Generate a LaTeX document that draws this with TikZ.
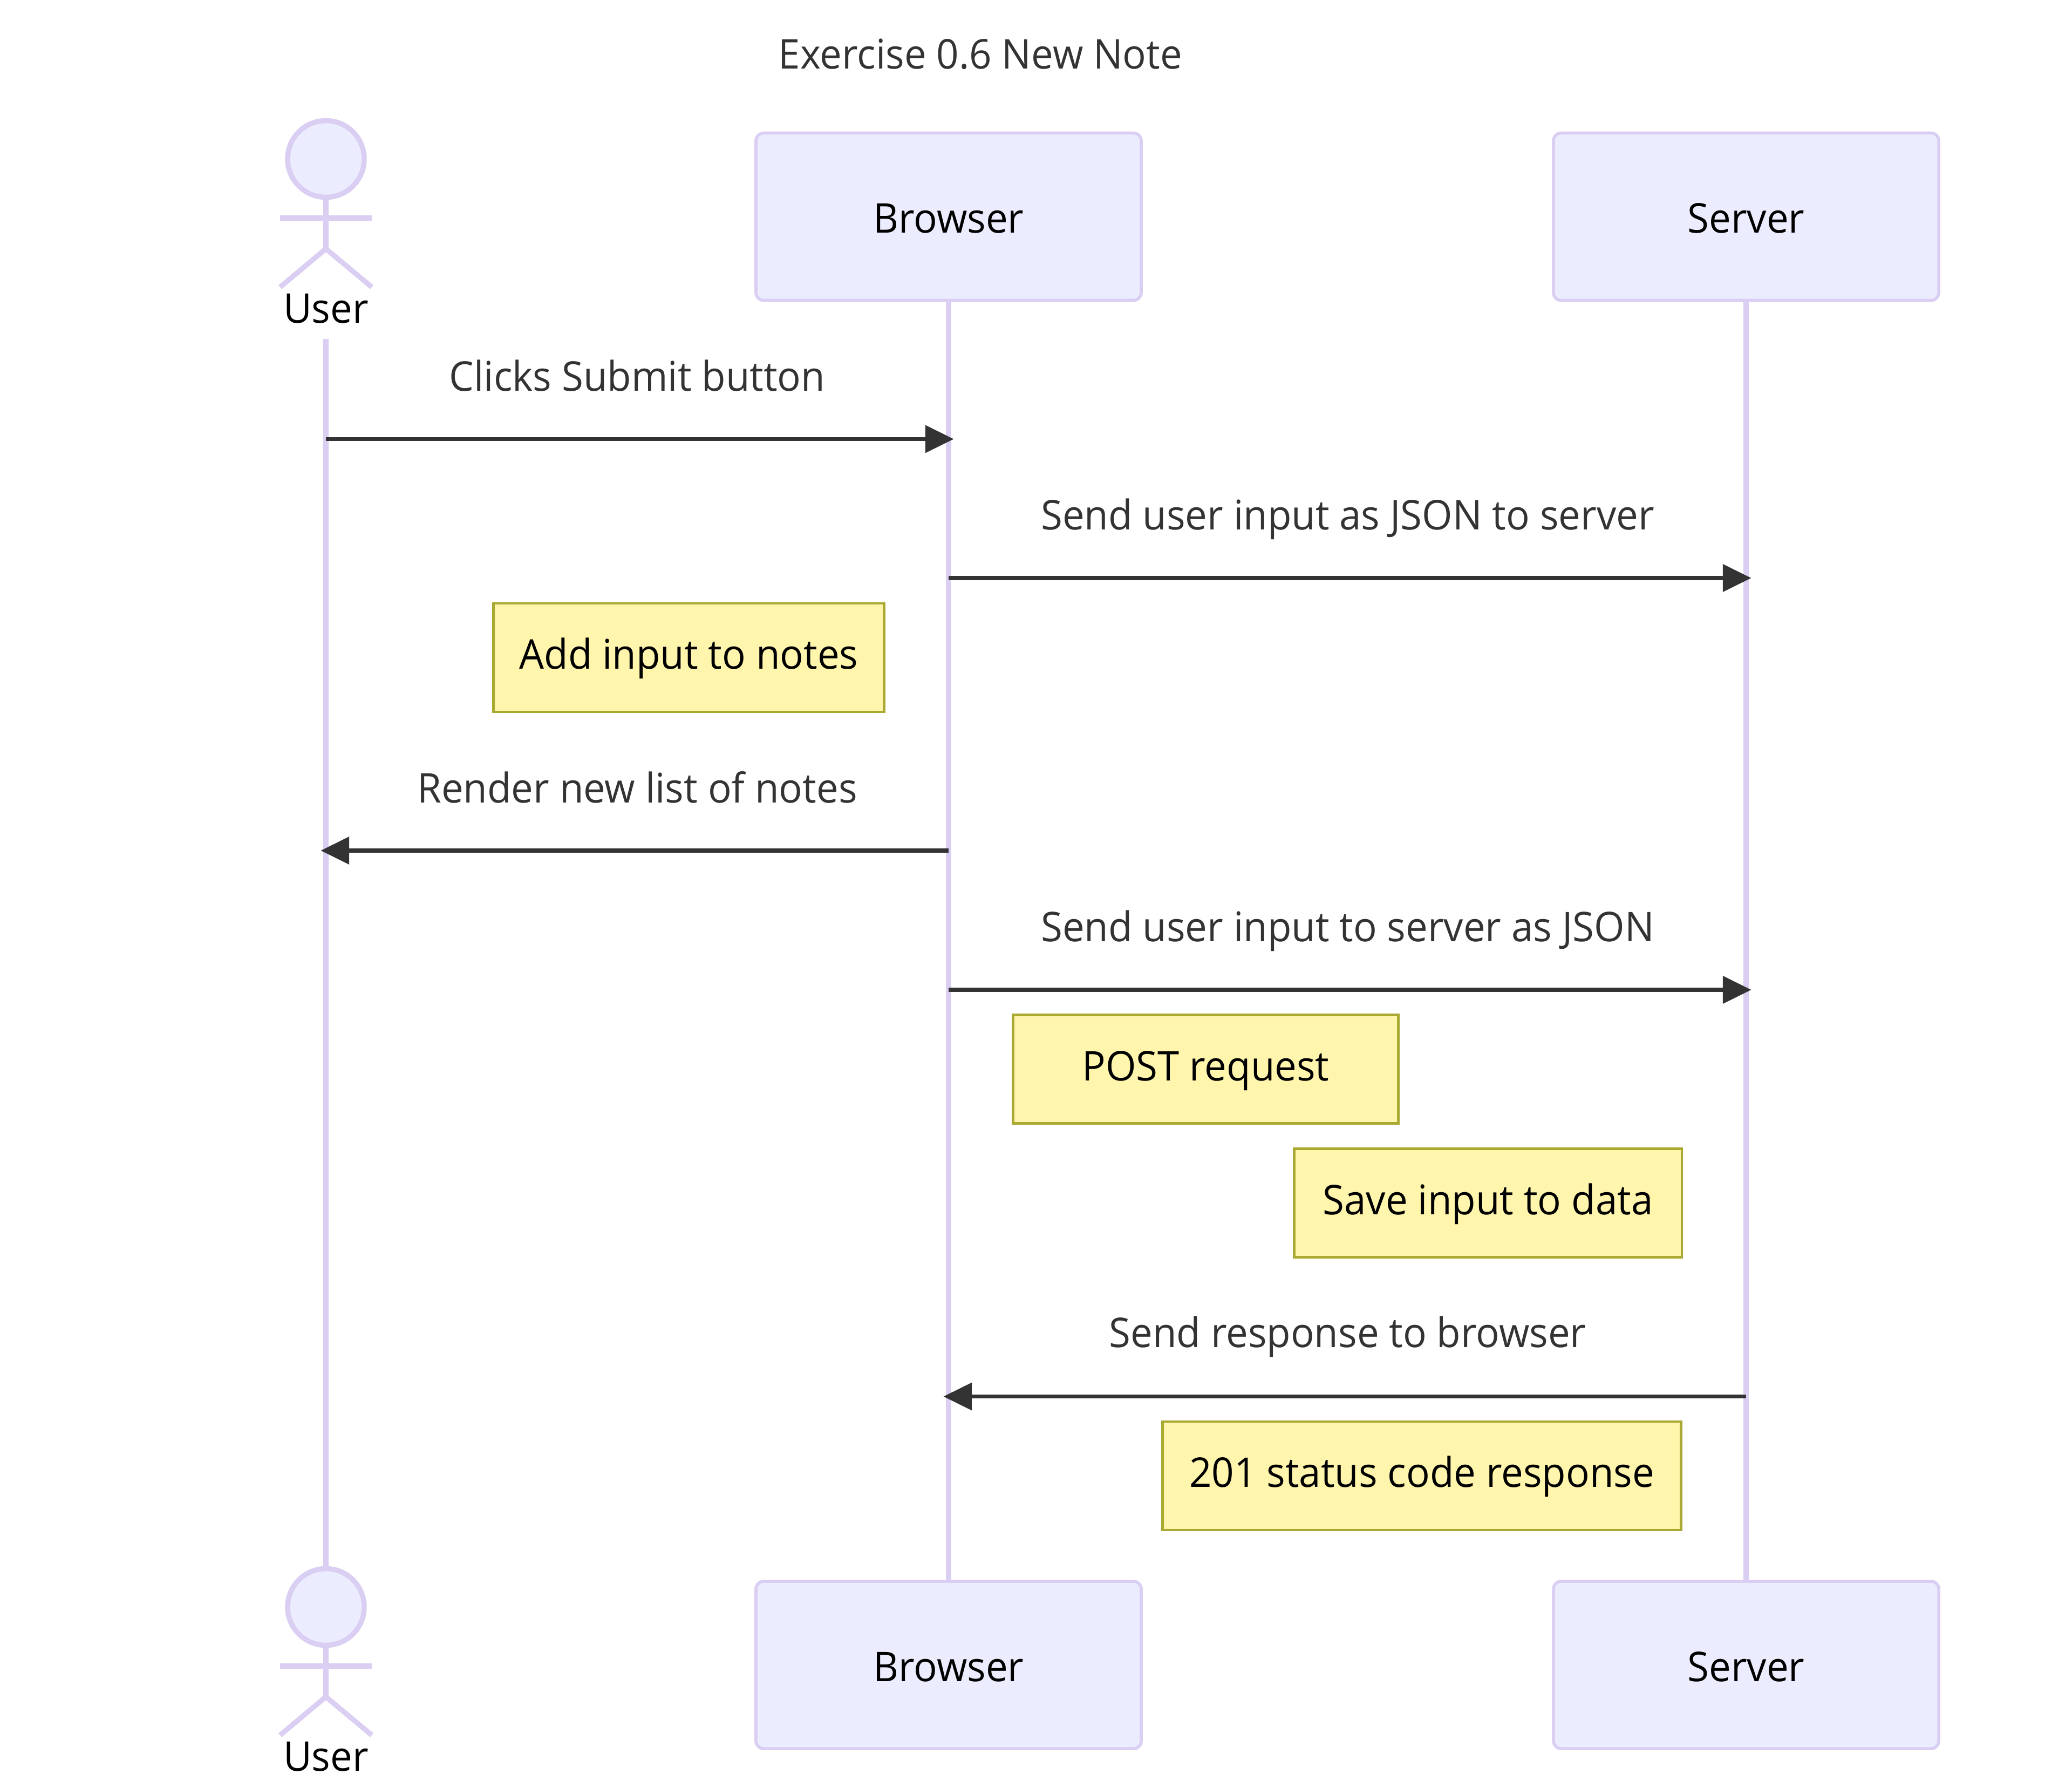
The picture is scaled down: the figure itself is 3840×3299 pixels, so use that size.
\documentclass[tikz,border=0pt]{standalone}
\usepackage{fontspec}
\setmainfont[FakeStretch=0.957]{Open Sans}
\usetikzlibrary{arrows.meta, positioning, calc}
\definecolor{actorline}{HTML}{DACEF3}
\definecolor{actorfill}{HTML}{ECECFF}
\definecolor{notefill}{HTML}{FFF5AD}
\definecolor{noteline}{HTML}{AAAA33}
\definecolor{msgcolor}{HTML}{333333}
\begin{document}
\begin{tikzpicture}[x=0.25pt, y=-0.25pt]
\tikzset{actor box/.style={
    draw=actorline, fill=actorfill, rounded corners=3.5pt,
    line width=1.4pt, inner sep=0pt,
    minimum width=178.5pt, minimum height=77.5pt,
    text height=15pt, text depth=0pt,
    font=\fontsize{18.96}{22}\selectfont
  },
  actor man/.style={
    draw=actorline, line width=2.37pt
  },
  actor label/.style={
    anchor=base, inner sep=0pt,
    font=\fontsize{18.96}{22}\selectfont
  },
  life line/.style={
    draw=actorline, line width=2.37pt
  },
  msg label/.style={
    anchor=base, inner sep=0pt, text=msgcolor,
    font=\fontsize{18.96}{22}\selectfont
  },
  msg arrow/.style={
    draw=msgcolor, line width=1.78pt, shorten >=-2.4pt,
    -{Triangle[length=13.2pt, width=12.5pt]}
  },
  note box/.style={
    draw=noteline, fill=notefill, line width=1.19pt, inner sep=0pt,
    minimum height=50.25pt,
    text height=14.25pt, text depth=3.75pt,
    font=\fontsize{18.96}{22}\selectfont
  }
}

\useasboundingbox (0,0) rectangle (3840,3299);

\node[msg label] (title) at (1817,127) {Exercise 0.6 New Note};

\node[actor box] (browsertop) at (1758,401.5) {Browser};
\node[actor box] (servertop) at (3236,401.5) {Server};
\node[actor box] (browserbot) at (1758,3085) {Browser};
\node[actor box] (serverbot) at (3236,3085) {Server};

\foreach \ay/\nm in {248/top, 2931/bot} {
  \begin{scope}[shift={(604,\ay)}]
    \node[actor man, fill=actorfill, circle, inner sep=0pt, minimum size=35.5pt] (userhead\nm) at (0,46.5) {};
    \draw[actor man] (userhead\nm.south) -- (0,213);
    \draw[actor man] (-85,156) -- (85,156);
    \draw[actor man] (-85,284) -- (0,213);
    \draw[actor man] (85,284) -- (0,213);
    \node[actor label] (userlabel\nm) at (0,350) {User};
  \end{scope}
}

\coordinate (userline) at (604,628);
\draw[life line] (userline) -- (userheadbot.north);
\draw[life line] (browsertop) -- (browserbot);
\draw[life line] (servertop) -- (serverbot);

\coordinate (m1) at (0,813.5);
\coordinate (m2) at (0,1071);
\coordinate (m3) at (0,1576);
\coordinate (m4) at (0,1834);
\coordinate (m5) at (0,2587.5);

\node[msg label] (l1) at (1181,724) {Clicks Submit button};
\draw[msg arrow] (userline |- m1) -- (browsertop |- m1);

\node[msg label] (l2) at (2497.5,981) {Send user input as JSON to server};
\draw[msg arrow] (browsertop |- m2) -- (servertop |- m2);

\node[note box, minimum width=181pt] (n1) at (1276.5,1218.5) {Add input to notes};

\node[msg label] (l3) at (1181,1487) {Render new list of notes};
\draw[msg arrow] (browsertop |- m3) -- (userline |- m3);

\node[msg label] (l4) at (2497.5,1744.5) {Send user input to server as JSON};
\draw[msg arrow] (browsertop |- m4) -- (servertop |- m4);

\node[note box, minimum width=178.6pt] (n2) at (2234.5,1981) {POST request};
\node[note box, minimum width=179.7pt] (n3) at (2757.5,2229) {Save input to data};

\node[msg label] (l5) at (2497.5,2496.5) {Send response to browser};
\draw[msg arrow] (servertop |- m5) -- (browsertop |- m5);

\node[note box, minimum width=240.4pt] (n4) at (2635,2734.5) {201 status code response};

\end{tikzpicture}
\end{document}
